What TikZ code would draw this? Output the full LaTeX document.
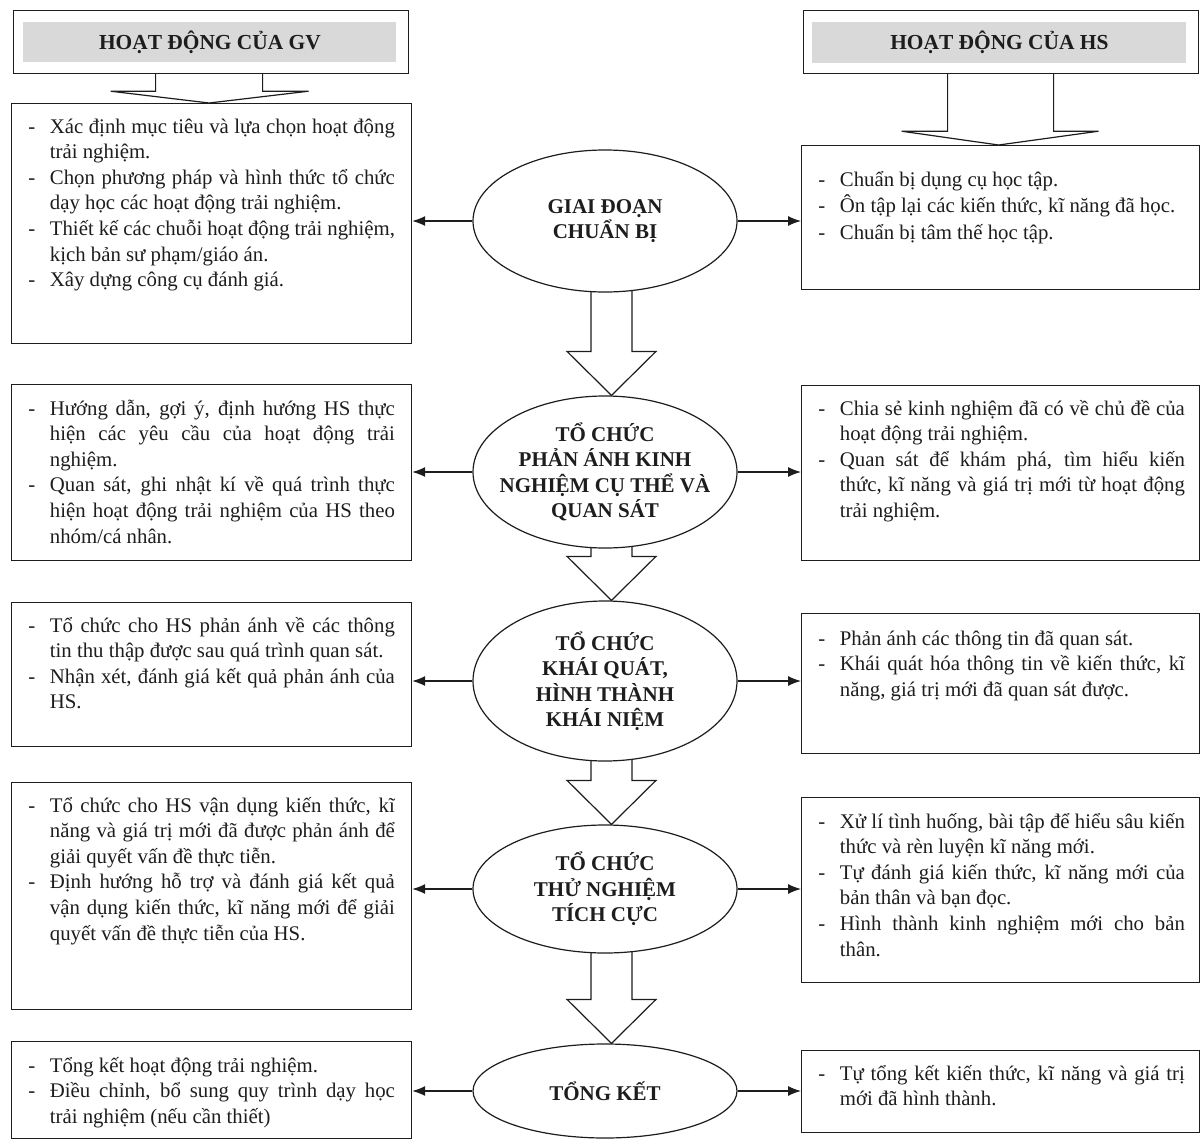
\documentclass[tikz,border=0pt]{standalone}
\usepackage{fontspec}
\setmainfont{Liberation Serif}
\usetikzlibrary{arrows.meta,calc,backgrounds,shapes.geometric}
\definecolor{ink}{RGB}{30,28,29}
\definecolor{hdrgray}{RGB}{217,217,217}
\newcommand\ItemJ[1]{\hbox to \hsize{\makebox[10.75pt][l]{-}#1}}
\newcommand\ItemN[1]{\hbox{\makebox[10.75pt][l]{-}#1}}
\newcommand\ContJ[1]{\hbox to \hsize{\hspace*{10.75pt}#1}}
\newcommand\ContN[1]{\hbox{\hspace*{10.75pt}#1}}
\newcommand\TxtBlock[2][12.8pt]{\vtop{\hsize=183.25pt\fontsize{10.4}{#1}\selectfont #2}}
\newcommand\blockarrow[2]{%
  \draw[ln, fill=white]
    ($(bx |- #1.center)+(-20.5,0)$) --
    ($(bx |- #2.north)+(-20.5,-44)$) --
    ($(bx |- #2.north)+(-44.5,-44)$) --
    (bx |- #2.north) --
    ($(bx |- #2.north)+(44.5,-44)$) --
    ($(bx |- #2.north)+(20.5,-44)$) --
    ($(bx |- #1.center)+(20.5,0)$) -- cycle;}
\tikzset{
  ln/.style={draw=ink, line width=0.6pt},
  boxn/.style={ln, rectangle, inner sep=0pt, anchor=north west},
  hdr/.style={rectangle, fill=hdrgray, inner sep=0pt, anchor=north west, text=ink,
    text height=7pt, text depth=0pt, font=\fontsize{10.7}{12}\selectfont\bfseries},
  elln/.style={ln, ellipse, fill=white, inner sep=0pt, minimum width={264*0.5pt}},
  etxt/.style={align=center, text=ink, inner sep=0pt,
    font=\fontsize{10.5}{12.75}\selectfont\bfseries},
  btxt/.style={anchor=base west, inner sep=0pt, text=ink},
  arr/.style={ln, -{Latex[length=6.5pt,width=5pt]}},
}
\begin{document}
\begin{tikzpicture}[x=0.5pt,y=-0.5pt]
\useasboundingbox (0,0) rectangle (1201,1141);

% headers
\node[boxn, minimum width={395*0.5pt}, minimum height={63*0.5pt}] (gvh) at (13,10) {};
\node[hdr, minimum width={373*0.5pt}, minimum height={40*0.5pt}] (gvg) at (23,22) {HOẠT ĐỘNG CỦA GV};
\node[boxn, minimum width={395*0.5pt}, minimum height={63*0.5pt}] (hsh) at (803,10) {};
\node[hdr, minimum width={374*0.5pt}, minimum height={41*0.5pt}] (hsg) at (812,22) {HOẠT ĐỘNG CỦA HS};

% GV boxes
\node[boxn, minimum width={400*0.5pt}, minimum height={240*0.5pt}] (g1) at (11,103) {};
\node[boxn, minimum width={400*0.5pt}, minimum height={176*0.5pt}] (g2) at (11,384) {};
\node[boxn, minimum width={400*0.5pt}, minimum height={144*0.5pt}] (g3) at (11,602) {};
\node[boxn, minimum width={400*0.5pt}, minimum height={227*0.5pt}] (g4) at (11,782) {};
\node[boxn, minimum width={400*0.5pt}, minimum height={97*0.5pt}] (g5) at (11,1041) {};

% HS boxes
\node[boxn, minimum width={398*0.5pt}, minimum height={144*0.5pt}] (h1) at (801,145) {};
\node[boxn, minimum width={398*0.5pt}, minimum height={175*0.5pt}] (h2) at (801,385) {};
\node[boxn, minimum width={398*0.5pt}, minimum height={140*0.5pt}] (h3) at (801,613) {};
\node[boxn, minimum width={398*0.5pt}, minimum height={185*0.5pt}] (h4) at (801,797) {};
\node[boxn, minimum width={398*0.5pt}, minimum height={82*0.5pt}] (h5) at (801,1050) {};

% header arrows
\draw[ln] ($(gvh.south)+(-55.5,0)$) -- ++(0,17) -- ++(-45,0) -- ($(g1.north)+(-2.5,0)$)
  -- ($(gvh.south)+(97.5,17)$) -- ++(-46,0) -- ++(0,-17);
\draw[ln] ($(hsh.south)+(-53.5,0)$) -- ++(0,57) -- ++(-46,0) -- ($(h1.north)+(-2,0)$)
  -- ($(hsh.south)+(97.5,57)$) -- ++(-45,0) -- ++(0,-57);

% ellipses
\node[elln, minimum height={142*0.5pt}] (e1) at (605,221) {};
\node[elln, minimum height={152*0.5pt}] (e2) at (605,472) {};
\node[elln, minimum height={160*0.5pt}] (e3) at (605,681) {};
\node[elln, minimum height={128*0.5pt}] (e4) at (605,889) {};
\node[elln, minimum height={94*0.5pt}] (e5) at (605,1091) {};
\node[etxt] (e1t) at (e1) {GIAI ĐOẠN\\CHUẨN BỊ};
\node[etxt] (e2t) at (e2) {TỔ CHỨC\\PHẢN ÁNH KINH\\NGHIỆM CỤ THỂ VÀ\\QUAN SÁT};
\node[etxt] (e3t) at (e3) {TỔ CHỨC\\KHÁI QUÁT,\\HÌNH THÀNH\\KHÁI NIỆM};
\node[etxt] (e4t) at (e4) {TỔ CHỨC\\THỬ NGHIỆM\\TÍCH CỰC};
\node[etxt] (e5t) at (e5) {TỔNG KẾT};

% block arrows between stages
\coordinate (bx) at (611.5,0);
\begin{pgfonlayer}{background}
\blockarrow{e1}{e2}
\blockarrow{e2}{e3}
\blockarrow{e3}{e4}
\blockarrow{e4}{e5}
\end{pgfonlayer}

% side arrows
\foreach \e/\g/\h in {e1/g1/h1, e2/g2/h2, e3/g3/h3, e4/g4/h4, e5/g5/h5} {
  \draw[arr] (\e.west) -- (\e.west -| \g.east);
  \draw[arr] (\e.east) -- (\e.east -| \h.west);
}

% texts GV
\node[btxt] (g1t) at ($(g1.north west)+(17,30)$) {\TxtBlock{%
\ItemJ{Xác định mục tiêu và lựa chọn hoạt động}
\ContN{trải nghiệm.}
\ItemJ{Chọn phương pháp và hình thức tổ chức}
\ContN{dạy học các hoạt động trải nghiệm.}
\ItemJ{Thiết kế các chuỗi hoạt động trải nghiệm,}
\ContN{kịch bản sư phạm/giáo án.}
\ItemN{Xây dựng công cụ đánh giá.}}};

\node[btxt] (g2t) at ($(g2.north west)+(17,31)$) {\TxtBlock{%
\ItemJ{Hướng dẫn, gợi ý, định hướng HS thực}
\ContJ{hiện các yêu cầu của hoạt động trải}
\ContN{nghiệm.}
\ItemJ{Quan sát, ghi nhật kí về quá trình thực}
\ContJ{hiện hoạt động trải nghiệm của HS theo}
\ContN{nhóm/cá nhân.}}};

\node[btxt] (g3t) at ($(g3.north west)+(17,30)$) {\TxtBlock{%
\ItemJ{Tổ chức cho HS phản ánh về các thông}
\ContN{tin thu thập được sau quá trình quan sát.}
\ItemJ{Nhận xét, đánh giá kết quả phản ánh của}
\ContN{HS.}}};

\node[btxt] (g4t) at ($(g4.north west)+(17,30)$) {\TxtBlock{%
\ItemJ{Tổ chức cho HS vận dụng kiến thức, kĩ}
\ContJ{năng và giá trị mới đã được phản ánh để}
\ContN{giải quyết vấn đề thực tiễn.}
\ItemJ{Định hướng hỗ trợ và đánh giá kết quả}
\ContJ{vận dụng kiến thức, kĩ năng mới để giải}
\ContN{quyết vấn đề thực tiễn của HS.}}};

\node[btxt] (g5t) at ($(g5.north west)+(17,31)$) {\TxtBlock{%
\ItemN{Tổng kết hoạt động trải nghiệm.}
\ItemJ{Điều chỉnh, bổ sung quy trình dạy học}
\ContN{trải nghiệm (nếu cần thiết)}}};

% texts HS
\node[btxt] (h1t) at ($(h1.north west)+(17,41)$) {\TxtBlock[13.3pt]{%
\ItemN{Chuẩn bị dụng cụ học tập.}
\ItemN{Ôn tập lại các kiến thức, kĩ năng đã học.}
\ItemN{Chuẩn bị tâm thế học tập.}}};

\node[btxt] (h2t) at ($(h2.north west)+(17,30)$) {\TxtBlock{%
\ItemJ{Chia sẻ kinh nghiệm đã có về chủ đề của}
\ContN{hoạt động trải nghiệm.}
\ItemJ{Quan sát để khám phá, tìm hiểu kiến}
\ContJ{thức, kĩ năng và giá trị mới từ hoạt động}
\ContN{trải nghiệm.}}};

\node[btxt] (h3t) at ($(h3.north west)+(17,32)$) {\TxtBlock{%
\ItemN{Phản ánh các thông tin đã quan sát.}
\ItemJ{Khái quát hóa thông tin về kiến thức, kĩ}
\ContN{năng, giá trị mới đã quan sát được.}}};

\node[btxt] (h4t) at ($(h4.north west)+(17,31)$) {\TxtBlock{%
\ItemJ{Xử lí tình huống, bài tập để hiểu sâu kiến}
\ContN{thức và rèn luyện kĩ năng mới.}
\ItemJ{Tự đánh giá kiến thức, kĩ năng mới của}
\ContN{bản thân và bạn đọc.}
\ItemJ{Hình thành kinh nghiệm mới cho bản}
\ContN{thân.}}};

\node[btxt] (h5t) at ($(h5.north west)+(17,30)$) {\TxtBlock{%
\ItemJ{Tự tổng kết kiến thức, kĩ năng và giá trị}
\ContN{mới đã hình thành.}}};

\end{tikzpicture}
\end{document}
